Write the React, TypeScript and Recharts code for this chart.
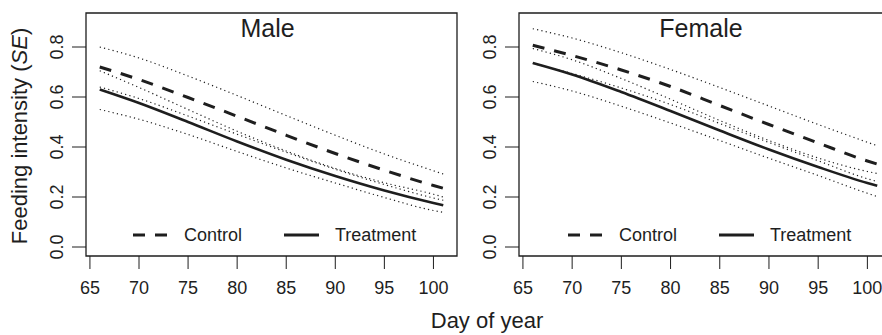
import { LineChart, Line, XAxis, YAxis, ReferenceArea, Legend } from "recharts"

const days = [66, 70, 75, 80, 85, 90, 95, 100, 101]
const xTicks = [65, 70, 75, 80, 85, 90, 95, 100]
const yTicks = [0, 0.2, 0.4, 0.6, 0.8]

// Male
const maleControl = [0.72, 0.67, 0.598, 0.523, 0.447, 0.374, 0.307, 0.246, 0.235]
const maleControlHi = [0.8, 0.756, 0.684, 0.606, 0.526, 0.447, 0.372, 0.305, 0.292]
const maleControlLo = [0.64, 0.594, 0.524, 0.451, 0.379, 0.311, 0.25, 0.196, 0.187]
const maleTreat = [0.63, 0.576, 0.5, 0.422, 0.349, 0.284, 0.226, 0.176, 0.167]
const maleTreatHi = [0.705, 0.638, 0.55, 0.463, 0.384, 0.314, 0.257, 0.211, 0.2]
const maleTreatLo = [0.55, 0.511, 0.45, 0.382, 0.316, 0.256, 0.198, 0.146, 0.139]

// Female
const femaleControl = [0.807, 0.766, 0.708, 0.642, 0.566, 0.49, 0.416, 0.344, 0.332]
const femaleControlHi = [0.873, 0.836, 0.777, 0.71, 0.638, 0.564, 0.49, 0.419, 0.405]
const femaleControlLo = [0.735, 0.694, 0.636, 0.57, 0.494, 0.418, 0.345, 0.273, 0.262]
const femaleTreat = [0.736, 0.69, 0.62, 0.544, 0.466, 0.39, 0.32, 0.256, 0.245]
const femaleTreatHi = [0.794, 0.749, 0.674, 0.591, 0.506, 0.426, 0.356, 0.302, 0.294]
const femaleTreatLo = [0.662, 0.624, 0.563, 0.496, 0.426, 0.355, 0.286, 0.215, 0.202]

const X_DOMAIN = [64.6, 102.4]
const Y_DOMAIN = [-0.036, 0.936]
const ink = "#1e1e1e"
const font = "'Liberation Sans', Arial, Helvetica, sans-serif"

function rows(c: number[], cHi: number[], cLo: number[], t: number[], tHi: number[], tLo: number[]) {
  return days.map((d, i) => ({
    day: d,
    control: c[i],
    controlHi: cHi[i],
    controlLo: cLo[i],
    treat: t[i],
    treatHi: tHi[i],
    treatLo: tLo[i],
  }))
}

const maleData = rows(maleControl, maleControlHi, maleControlLo, maleTreat, maleTreatHi, maleTreatLo)
const femaleData = rows(femaleControl, femaleControlHi, femaleControlLo, femaleTreat, femaleTreatHi, femaleTreatLo)

const YTick = (props: any) => {
  const { x, y, payload } = props
  const bx = x - 7
  return (
    <text x={bx} y={y} transform={`rotate(-90, ${bx}, ${y})`} textAnchor="middle"
      fontSize={18} fontFamily={font} fill={ink}>
      {Number(payload.value).toFixed(1)}
    </text>
  )
}

const LegendBox = () => (
  <div style={{ display: "flex", alignItems: "center", fontFamily: font, fontSize: 18, color: ink, lineHeight: "22px", whiteSpace: "nowrap" }}>
    <svg width={35} height={6}>
      <line x1={0} x2={35} y1={3} y2={3} stroke={ink} strokeWidth={3} strokeDasharray="12 10" />
    </svg>
    <span style={{ marginLeft: 16, width: 100 }}>Control</span>
    <svg width={35} height={6}>
      <line x1={0} x2={35} y1={3} y2={3} stroke={ink} strokeWidth={3} />
    </svg>
    <span style={{ marginLeft: 16 }}>Treatment</span>
  </div>
)

function Panel({ title, data, width, yAxisWidth, margin, legendLeft }: any) {
  const dotted = { stroke: ink, strokeWidth: 1.2, strokeDasharray: "1.2 3.2", dot: false, isAnimationActive: false, type: "monotone" as const }
  return (
    <LineChart width={width} height={335} data={data} margin={margin}>
      <XAxis dataKey="day" type="number" domain={X_DOMAIN} ticks={xTicks} allowDataOverflow
        axisLine={false} tickSize={13} tickMargin={12} height={50}
        tickLine={{ stroke: ink, strokeWidth: 1 }}
        tick={{ fontSize: 18, fontFamily: font, fill: ink }} />
      <YAxis type="number" domain={Y_DOMAIN} ticks={yTicks} allowDataOverflow width={yAxisWidth}
        axisLine={false} tickSize={14} tickLine={{ stroke: ink, strokeWidth: 1 }} tick={<YTick />} />
      <ReferenceArea x1={X_DOMAIN[0]} x2={X_DOMAIN[1]} y1={Y_DOMAIN[0]} y2={Y_DOMAIN[1]}
        fill="none" fillOpacity={0} stroke={ink} strokeWidth={1.3} ifOverflow="visible"
        label={{ value: title, position: "insideTop", offset: 6, dx: -4, fontSize: 25, fontFamily: font, fill: ink }} />
      <Line dataKey="controlHi" {...dotted} />
      <Line dataKey="controlLo" {...dotted} />
      <Line dataKey="treatHi" {...dotted} />
      <Line dataKey="treatLo" {...dotted} />
      <Line dataKey="control" type="monotone" stroke={ink} strokeWidth={3} strokeDasharray="12 10" dot={false} isAnimationActive={false} />
      <Line dataKey="treat" type="monotone" stroke={ink} strokeWidth={2.6} dot={false} isAnimationActive={false} />
      <Legend layout="horizontal" verticalAlign="middle" content={<LegendBox />}
        wrapperStyle={{ left: legendLeft, top: 224, width: "auto" }} />
    </LineChart>
  )
}

export default function App() {
  return (
    <div style={{ position: "absolute", left: 0, top: 0, width: 882, height: 335, overflow: "hidden", background: "#fff" }}>
      <div style={{ position: "absolute", left: 0, top: 0 }}>
        <Panel title="Male" data={maleData} width={470} yAxisWidth={50}
          margin={{ top: 13, right: 13, left: 36, bottom: 29 }} legendLeft={133} />
      </div>
      <div style={{ position: "absolute", left: 470, top: 0 }}>
        <Panel title="Female" data={femaleData} width={430} yAxisWidth={40}
          margin={{ top: 13, right: 9, left: 9, bottom: 29 }} legendLeft={98} />
      </div>
      <svg width={882} height={335} style={{ position: "absolute", left: 0, top: 0, pointerEvents: "none" }}>
        <text x={27} y={136} transform="rotate(-90, 27, 136)" textAnchor="middle" fontSize={22} fontFamily={font} fill={ink}>
          Feeding intensity (<tspan fontStyle="italic">SE</tspan>)
        </text>
        <text x={487} y={328} textAnchor="middle" fontSize={22} fontFamily={font} fill={ink}>
          Day of year
        </text>
      </svg>
    </div>
  )
}
